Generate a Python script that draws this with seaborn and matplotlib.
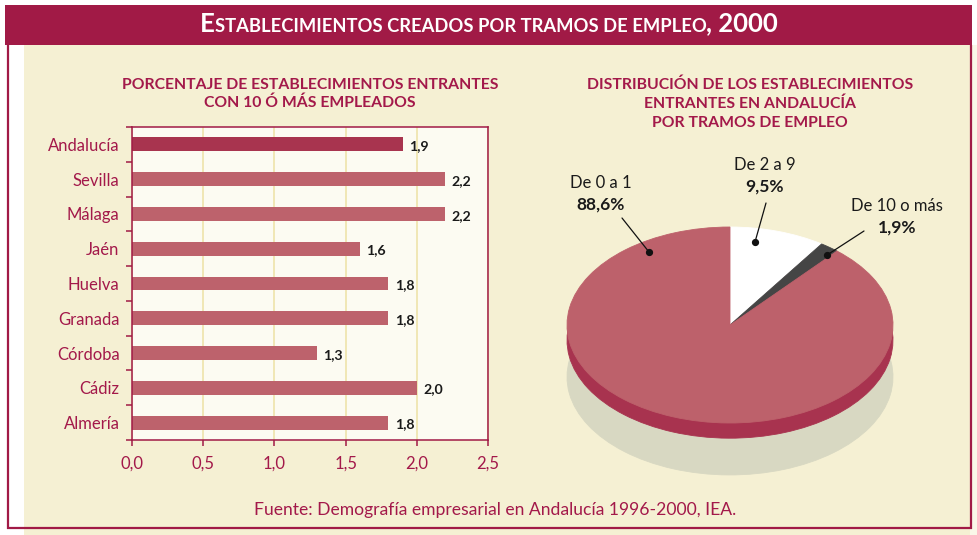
import numpy as np
import pandas as pd
import matplotlib
matplotlib.use("Agg")
import matplotlib.pyplot as plt
from matplotlib.patches import Rectangle
import seaborn as sns

# ---- data -------------------------------------------------------------
provincias = ["Andalucía", "Sevilla", "Málaga", "Jaén", "Huelva",
              "Granada", "Córdoba", "Cádiz", "Almería"]
porcentaje = [1.9, 2.2, 2.2, 1.6, 1.8, 1.8, 1.3, 2.0, 1.8]
xtick_vals = [0.0, 0.5, 1.0, 1.5, 2.0, 2.5]
xtick_labels = ["0,0", "0,5", "1,0", "1,5", "2,0", "2,5"]

tramos = ["De 2 a 9", "De 10 o más", "De 0 a 1"]
reparto = [9.5, 1.9, 88.6]

# ---- style ------------------------------------------------------------
W, H = 977, 535
CRIMSON = "#a11a46"
TEXT_RED = "#a3194a"
CREAM = "#f5f0d3"

sns.set_theme(style="white")
plt.rcParams["font.family"] = ["Lato", "DejaVu Sans"]

fig = plt.figure(figsize=(W / 100, H / 100), dpi=100)
fig.patch.set_facecolor("white")


def frac(x0, y0, x1, y1):
    """Pixel box (origin top-left) -> figure-fraction rect."""
    return [x0 / W, 1 - y1 / H, (x1 - x0) / W, (y1 - y0) / H]


def fmt(v, suffix=""):
    return f"{v:.1f}".replace(".", ",") + suffix


# background layer in pixel coordinates
bg = fig.add_axes([0, 0, 1, 1], zorder=-5)
bg.set_xlim(0, W)
bg.set_ylim(H, 0)
bg.axis("off")

bg.add_patch(Rectangle((970, 45), 7, H - 45, color="#faf7e8", lw=0))
bg.add_patch(Rectangle((24, 45), 946, H - 45, color=CREAM, lw=0))
bg.add_patch(Rectangle((5, 5), 967, 40, color=CRIMSON, lw=0))
frame_kw = dict(color=CRIMSON, lw=1.6, solid_capstyle="butt")
bg.plot([8, 8], [45, 528.5], **frame_kw)
bg.plot([7, 971.5], [528, 528], **frame_kw)
bg.plot([970.5, 970.5], [45, 528.5], **frame_kw)

# ---- bar chart --------------------------------------------------------
ax = fig.add_axes(frac(132, 127, 488, 440))
df = pd.DataFrame({"provincia": provincias, "porcentaje": porcentaje})
colores = ["#a8344f"] + ["#bd626c"] * (len(provincias) - 1)
sns.barplot(data=df, x="porcentaje", y="provincia", hue="provincia",
            palette=colores, legend=False, width=0.4, saturation=1,
            linewidth=0, ax=ax)

ax.set_facecolor("#fcfbf2")
ax.set_xlim(0, 2.5)
ax.set_ylim(len(provincias) - 0.5, -0.5)
ax.set_xlabel("")
ax.set_ylabel("")
ax.set_axisbelow(True)
ax.set_xticks(xtick_vals)
ax.set_xticklabels(xtick_labels)
ax.xaxis.grid(True, color="#efe5b0", lw=1.3)
ax.yaxis.grid(False)
for sp in ax.spines.values():
    sp.set_color(CRIMSON)
    sp.set_linewidth(1.1)
    sp.set_visible(True)

ax.tick_params(axis="x", which="major", bottom=True, direction="out",
               length=4, width=1.1, color=CRIMSON, labelcolor=TEXT_RED,
               labelsize=12, pad=7)
ax.set_yticks(range(len(provincias)))
ax.set_yticklabels(provincias)
ax.set_yticks(np.arange(-0.5, len(provincias), 1.0), minor=True)
ax.tick_params(axis="y", which="major", left=True, length=0, pad=9,
               labelcolor=TEXT_RED, labelsize=12)
ax.tick_params(axis="y", which="minor", left=True, direction="out",
               length=4, width=1.1, color=CRIMSON)

for i, v in enumerate(porcentaje):
    ax.text(v + 0.045, i + 0.05, fmt(v), va="center", ha="left",
            fontsize=10.2, fontweight="bold", color="#1a1a1a")

# ---- pie (tilted disc) ------------------------------------------------
CX, CY, RX, RY = 730, 325, 163, 98
XL, YL = (-1.2, 1.2), (-1.7, 1.1)
pax = fig.add_axes(frac(CX + XL[0] * RX, CY - YL[1] * RY,
                        CX + XL[1] * RX, CY - YL[0] * RY))
pax.patch.set_alpha(0)

layers = [((0, -0.53), ["#d8d8c2"] * 3),
          ((0, -0.155), ["#a8334f"] * 3),
          ((0, 0), ["#ffffff", "#454545", "#bd616b"])]
for center, cols in layers:
    wedges, _ = pax.pie(reparto, colors=cols, startangle=90,
                        counterclock=False, center=center,
                        wedgeprops=dict(linewidth=0.6))
    for w in wedges:
        w.set_edgecolor(w.get_facecolor())
pax.set_aspect("auto")
pax.set_xlim(*XL)
pax.set_ylim(*YL)
pax.axis("off")

# ---- overlay: titles, callouts, source --------------------------------
ov = fig.add_axes([0, 0, 1, 1], zorder=10)
ov.set_xlim(0, W)
ov.set_ylim(H, 0)
ov.axis("off")

# banner title in small caps
renderer = fig.canvas.get_renderer()
pieces = [("E", 18.5), ("STABLECIMIENTOS CREADOS POR TRAMOS DE EMPLEO", 13.2),
          (", 2000", 18.5)]
parts, widths = [], []
for s, size in pieces:
    t = ov.text(0, 31.5, s, fontsize=size, color="white", fontweight="bold",
                va="baseline", ha="left")
    parts.append(t)
    widths.append(t.get_window_extent(renderer).width)
x = 489 - sum(widths) / 2
for t, wdt in zip(parts, widths):
    t.set_x(x)
    x += wdt

sub_kw = dict(ha="center", va="center", fontsize=11.3, fontweight="bold",
              color=TEXT_RED)
ov.text(310, 85, "PORCENTAJE DE ESTABLECIMIENTOS ENTRANTES", **sub_kw)
ov.text(310, 103, "CON 10 Ó MÁS EMPLEADOS", **sub_kw)
ov.text(750, 85, "DISTRIBUCIÓN DE LOS ESTABLECIMIENTOS", **sub_kw)
ov.text(750, 104, "ENTRANTES EN ANDALUCÍA", **sub_kw)
ov.text(750, 123, "POR TRAMOS DE EMPLEO", **sub_kw)

# callouts: (label position, line start, dot)
callouts = {
    "De 0 a 1": ((601, 183), (622, 218), (649, 252)),
    "De 2 a 9": ((765, 165), (766, 203), (755, 242)),
    "De 10 o más": ((897, 206), (864, 231), (827, 255)),
}
for nombre, valor in zip(tramos, reparto):
    (tx, ty), (lx, ly), (dx, dy) = callouts[nombre]
    ov.text(tx, ty, nombre, ha="center", va="center", fontsize=12,
            color="#1a1a1a")
    ov.text(tx, ty + 22, fmt(valor, "%"), ha="center", va="center",
            fontsize=12.5, fontweight="bold", color="#1a1a1a")
    ov.plot([lx, dx], [ly, dy], color="#111111", lw=0.9)
    ov.plot([dx], [dy], marker="o", ms=4.2, color="#111111")

ov.text(495, 510, "Fuente: Demografía empresarial en Andalucía 1996-2000, IEA.",
        ha="center", va="center", fontsize=12.6, color=TEXT_RED)

fig.savefig("out.png", dpi=100, facecolor=fig.get_facecolor())
